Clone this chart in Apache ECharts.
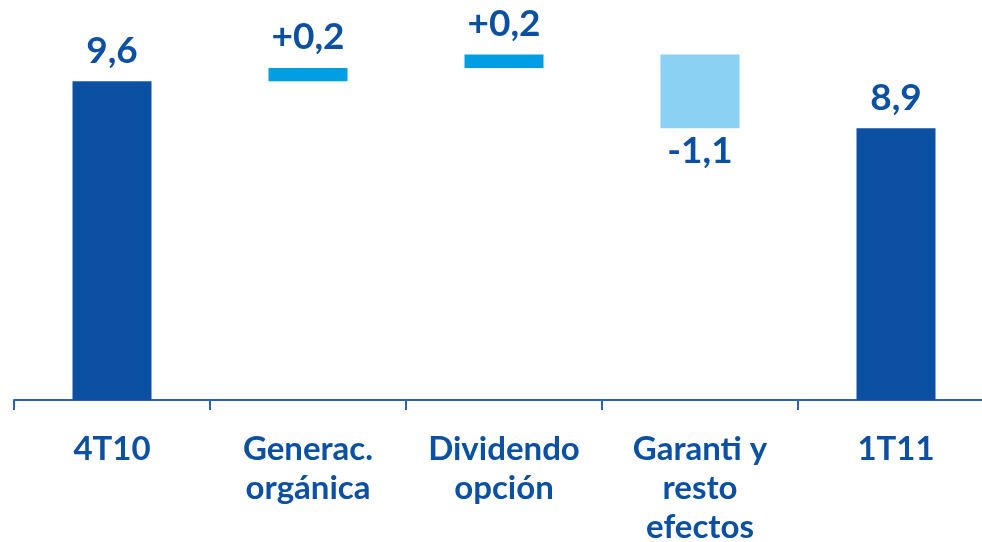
<!DOCTYPE html>
<html lang="es" style="height: 100%">
<head>
  <meta charset="utf-8">
  <title>waterfall</title>
  <style>
    html, body { height: 100%; margin: 0; background: #fff; }
  </style>
</head>
<body>
  <div id="container" style="width: 982px; height: 542px"></div>
  <script src="https://cdn.jsdelivr.net/npm/echarts@6/dist/echarts.min.js"></script>
  <script type="text/javascript">
    // datos
    var categories = ['4T10', 'Generac.\norgánica', 'Dividendo\nopción', 'Garanti y\nresto\nefectos', '1T11'];
    var values = [9.6, 0.2, 0.2, -1.1, 8.9];
    var isTotal = [true, false, false, false, true];
    var valueLabels = ['9,6', '+0,2', '+0,2', '-1,1', '8,9'];

    var DARK = '#0b50a3';
    var UP = '#009fe3';
    var DOWN = '#8ad1f3';

    // base invisible + barra visible
    var baseData = [];
    var barData = [];
    var running = 0;
    values.forEach(function (v, i) {
      if (isTotal[i]) {
        baseData.push(0);
        barData.push(v);
        running = v;
      } else {
        baseData.push(v >= 0 ? running : running + v);
        barData.push(Math.abs(v));
        running += v;
      }
    });

    var dom = document.getElementById('container');
    var myChart = echarts.init(dom, null, { renderer: 'canvas' });
    var option = {
      animation: false,
      grid: { left: 14, width: 980, top: 21, bottom: 142, outerBoundsMode: 'none', containLabel: false },
      xAxis: {
        type: 'category',
        data: categories,
        axisLine: { lineStyle: { color: '#2a63b6', width: 2 } },
        axisTick: { show: true, length: 10, lineStyle: { color: '#2a63b6', width: 2 } },
        axisLabel: {
          interval: 0,
          margin: 30,
          color: DARK,
          fontFamily: 'Lato',
          fontWeight: 'bold',
          fontSize: 33,
          lineHeight: 39
        }
      },
      yAxis: {
        type: 'value',
        min: 4.85,
        max: 10.5,
        show: false,
        splitLine: { show: false }
      },
      series: [
        {
          type: 'bar',
          stack: 'w',
          barWidth: 79,
          silent: true,
          itemStyle: { color: 'transparent' },
          data: baseData
        },
        {
          type: 'bar',
          stack: 'w',
          barWidth: 79,
          data: barData.map(function (v, i) {
            var neg = values[i] < 0;
            return {
              value: v,
              itemStyle: { color: isTotal[i] ? DARK : (neg ? DOWN : UP) },
              label: {
                show: true,
                position: neg ? 'bottom' : 'top',
                distance: neg ? 4 : 12,
                formatter: valueLabels[i],
                color: DARK,
                fontFamily: 'Lato',
                fontWeight: 'bold',
                fontSize: 37
              }
            };
          })
        }
      ]
    };
    myChart.setOption(option);
    window.addEventListener('resize', myChart.resize);
  </script>
</body>
</html>
